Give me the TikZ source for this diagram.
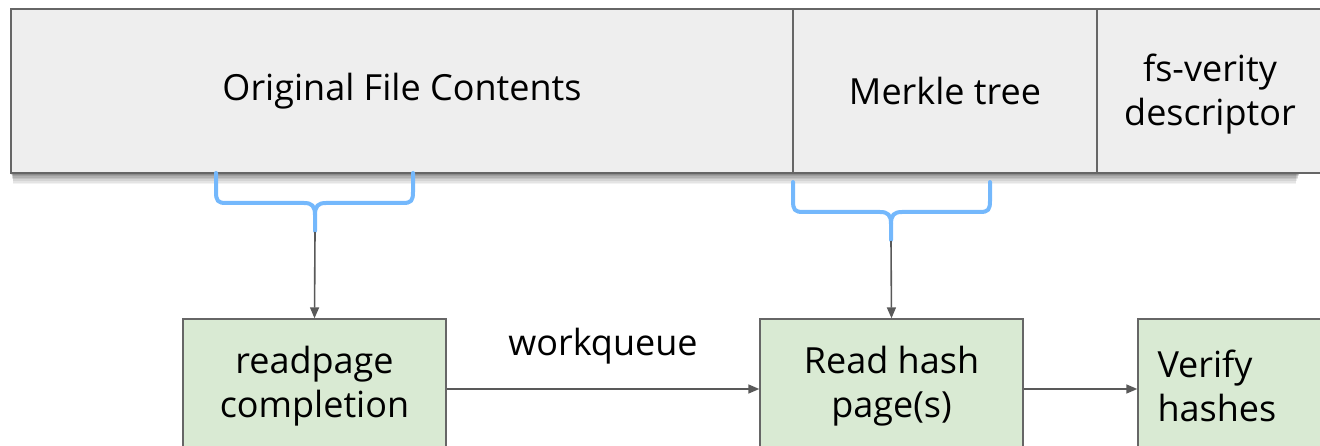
\documentclass[tikz,border=0pt]{standalone}
\usepackage{fontspec}
\setmainfont{Open Sans}
\usetikzlibrary{arrows.meta}
\definecolor{barfill}{HTML}{EEEEEE}
\definecolor{edge}{HTML}{666666}
\definecolor{stepfill}{HTML}{D9EAD3}
\definecolor{bracec}{HTML}{74B8FC}
\definecolor{arrc}{HTML}{595959}
\newcommand{\labelfont}{\fontsize{36}{44}\selectfont}
\tikzset{
  seg/.style={draw=edge, line width=1.6pt, fill=barfill, rectangle, inner sep=0pt,
    minimum height=164pt, font=\labelfont, align=center},
  stepbox/.style={draw=edge, line width=1.4pt, fill=stepfill, rectangle, inner sep=0pt,
    minimum height=134pt, font=\labelfont, align=center},
  brace/.style={draw=bracec, line width=4pt, line cap=round, line join=round},
  arr/.style={draw=arrc, line width=1.6pt, -{Triangle[length=11pt,width=9pt]}},
}
\begin{document}
\begin{tikzpicture}[x=1pt,y=-1pt]
\useasboundingbox (0,0) rectangle (1320,446);
\clip (0,0) rectangle (1320,446);
% soft drop shadow under the file layout bar
\foreach \d/\o in {7/0.05,6/0.06,5/0.07,4/0.08,3/0.09,2/0.10,1/0.12}
  \fill[black,opacity=\o] (11+\d*0.3,12+\d) rectangle (1300-\d*0.6,173+\d*1.6);
% file layout bar
\node[seg, minimum width=782pt] (orig) at (402,91) {\raisebox{-4pt}{Original File Contents}};
\node[seg, minimum width=304pt] (merkle) at (945,91) {\raisebox{-2pt}{Merkle tree}};
\node[seg, minimum width=260pt] (desc) at (1227,91) {};
\node[font=\labelfont, align=center, inner sep=0pt] (desctxt) at (1210,94) {fs-verity\\descriptor};
% braces under the data ranges
\draw[brace] (216,173) -- (216,192) .. controls (216,201) and (218,203) .. (226,203)
  -- (304,203) .. controls (312,203) and (315,206) .. (315,215) -- (315,231);
\draw[brace] (413,173) -- (413,192) .. controls (413,201) and (411,203) .. (403,203)
  -- (326,203) .. controls (318,203) and (315,206) .. (315,215);
\draw[brace] (793,182) -- (793,201) .. controls (793,210) and (795,212) .. (803,212)
  -- (880,212) .. controls (888,212) and (891,215) .. (891,224) -- (891,240);
\draw[brace] (990,182) -- (990,201) .. controls (990,210) and (988,212) .. (980,212)
  -- (902,212) .. controls (894,212) and (891,215) .. (891,224);
\coordinate (ltip) at (315,232);
\coordinate (rtip) at (891,241);
% processing steps
\node[stepbox, minimum width=263pt] (rp) at (314.5,386) {readpage\\completion};
\node[stepbox, minimum width=263pt] (rh) at (891.5,386) {Read hash\\page(s)};
\node[stepbox, minimum width=260pt, text width=221pt, align=left] (vh) at (1268,386) {Verify\\hashes};
\draw[arr] (ltip) -- (rp.north);
\draw[arr] (rtip) -- (rh.north);
\draw[arr] ([yshift=-3pt]rp.east) -- node[above=21pt, font=\labelfont] (wq) {workqueue} ([yshift=-3pt]rh.west);
\draw[arr] ([yshift=-3pt]rh.east) -- ([yshift=-3pt]vh.west);
\end{tikzpicture}
\end{document}
